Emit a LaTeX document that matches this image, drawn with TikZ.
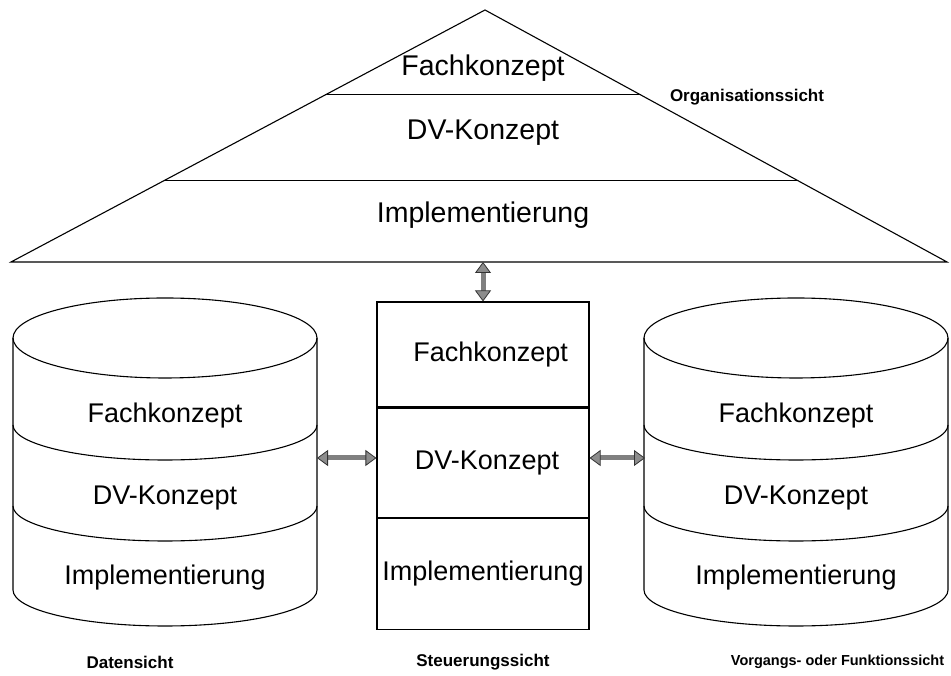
\documentclass[tikz,border=0pt]{standalone}
\usepackage{fontspec}
\setmainfont{Liberation Sans}
\usetikzlibrary{positioning,arrows.meta,calc}

\begin{document}
\begin{tikzpicture}[
  x=1pt, y=1pt,
  font=\fontsize{27}{32}\selectfont,
  line width=1.1pt,
  %% Styles
  layer/.style  = {inner sep=0pt, anchor=center},
  toplayer/.style = {layer, font=\fontsize{28.5}{34}\selectfont},
  sicht/.style  = {font=\fontsize{17}{20}\selectfont\bfseries},
  fbox/.style   = {draw, minimum width=212pt, inner sep=0pt},
  dblarr/.style = {{Triangle[length=11pt,width=16pt,color=black!80,fill=black!45,line width=0.8pt]}-{Triangle[length=11pt,width=16pt,color=black!80,fill=black!45,line width=0.8pt]},
                   draw=black!50, line width=5pt},
]
\useasboundingbox (0,0) rectangle (951,676);

%% ── Organisationssicht: triangle ───────────────────────────────
\coordinate (apex)  at (485,666);
\coordinate (baseL) at (11,414);
\coordinate (baseR) at (947,414);
\draw[line join=miter] (baseL) -- (apex) -- (baseR) -- cycle;
\draw ($(apex)!0.337!(baseL)$) -- ($(apex)!0.337!(baseR)$);
\draw ($(apex)!0.675!(baseL)$) -- ($(apex)!0.675!(baseR)$);

\node[toplayer] (orgFach) at (483,608) {Fachkonzept};
\node[toplayer] (orgDV)   at (483,543) {DV-Konzept};
\node[toplayer] (orgImpl) at (483,461) {Implementierung};
\node[sicht] (orgLabel) at (747,579) {Organisationssicht};

%% ── Steuerungssicht: box ───────────────────────────────────────
\node[fbox, minimum height=105pt, text width=170pt, align=right] (steuFach) at (483,321.5) {Fachkonzept};
\node[fbox, minimum height=109pt, below=0pt of steuFach] (steuDV) {\hspace{8pt}DV-Konzept};
\node[fbox, minimum height=111pt, below=0pt of steuDV] (steuImpl) {Implementierung};
\node[sicht] (steuLabel) at (483,14) {Steuerungssicht};

%% ── Daten- and Vorgangssicht: cylinders ────────────────────────
\foreach \cx/\nm in {165/dat, 796/vor}{
  \draw (\cx-152,338) -- (\cx-152,86)
        arc[start angle=180, end angle=360, x radius=152, y radius=36]
        -- (\cx+152,338);
  \draw (\cx,338) ellipse[x radius=152, y radius=40];
  \draw (\cx-152,251) arc[start angle=180, end angle=360, x radius=152, y radius=35];
  \draw (\cx-152,170) arc[start angle=180, end angle=360, x radius=152, y radius=35];
  \node[layer] (\nm Fach) at (\cx,260) {Fachkonzept};
  \node[layer] (\nm DV)   at (\cx,178) {DV-Konzept};
  \node[layer] (\nm Impl) at (\cx,98)  {Implementierung};
}
\node[sicht] (datLabel) at (130,14) {Datensicht};
\node[sicht, font=\fontsize{14.5}{17}\selectfont\bfseries, anchor=east] (vorLabel) at (948,14) {Vorgangs- oder Funktionssicht};

%% ── Arrows ─────────────────────────────────────────────────────
\coordinate (orgS) at (483,414);
\coordinate (datE) at (317,218);
\coordinate (vorW) at (645,218);
\draw[dblarr] (steuFach.north) -- (orgS);
\draw[dblarr] (datE) -- (datE -| steuDV.west);
\draw[dblarr] (vorW -| steuDV.east) -- (vorW);

\end{tikzpicture}
\end{document}
